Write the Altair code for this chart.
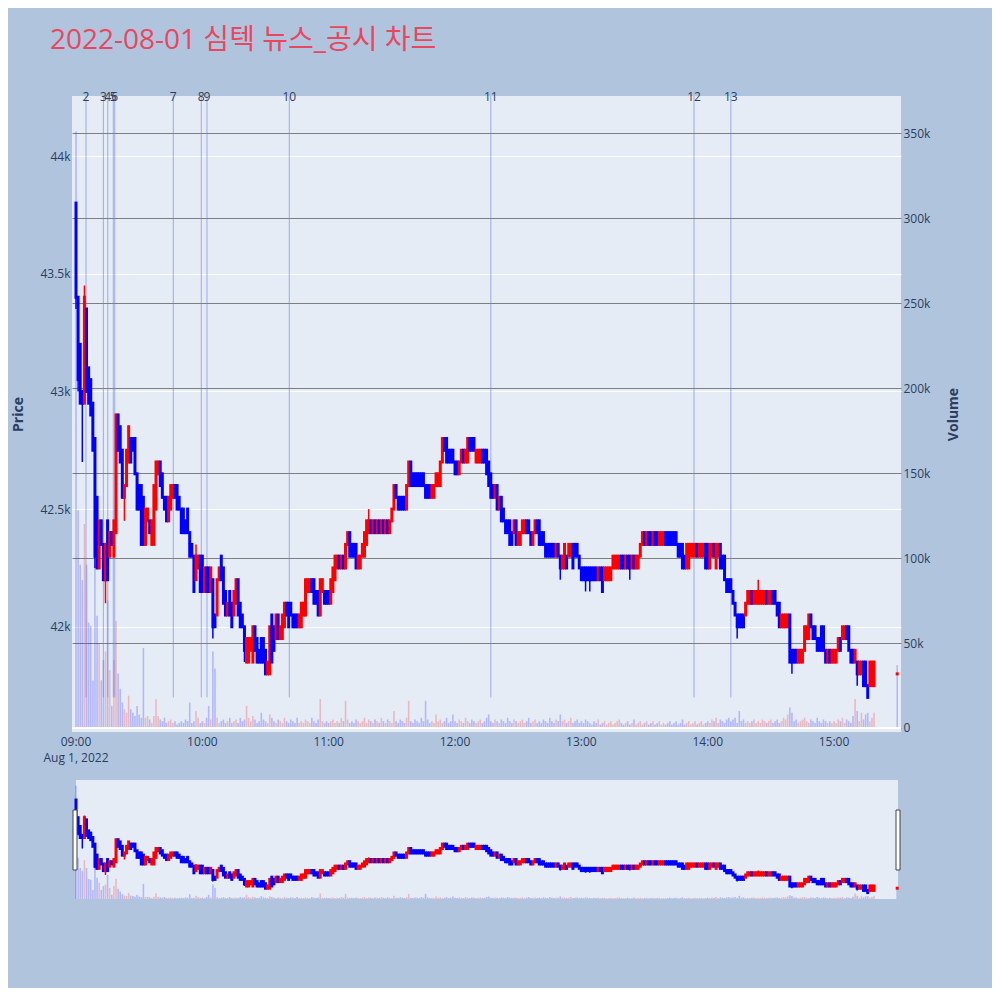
import altair as alt
import pandas as pd

TITLE = "2022-08-01 심텍 뉴스_공시 차트"

# one candle per minute after 09:00 (0..379) plus the 15:30 closing auction (390)
minutes = list(range(380)) + [390]

opens = [
    43800, 43400, 43200, 43000, 42950, 43350, 43100, 43050, 42950, 42800,
    42550, 42250, 42450, 42350, 42200, 42450, 42300, 42400, 42300, 42400,
    42900, 42850, 42750, 42550, 42600, 42700, 42800, 42800, 42800, 42650,
    42600, 42600, 42550, 42350, 42450, 42450, 42350, 42350, 42500, 42650,
    42700, 42650, 42550, 42550, 42450, 42500, 42550, 42600, 42600, 42550,
    42500, 42500, 42450, 42500, 42400, 42350, 42300, 42200, 42250, 42300,
    42300, 42150, 42250, 42250, 42150, 42200, 42050, 42050, 42200, 42300,
    42250, 42150, 42050, 42150, 42100, 42050, 42100, 42200, 42100, 42050,
    42000, 41850, 41850, 41900, 41850, 42000, 41950, 41900, 41950, 41950,
    41900, 41800, 41800, 42050, 42000, 41950, 42050, 41950, 41950, 42000,
    42100, 42100, 42100, 42050, 42050, 42050, 42000, 42000, 42050, 42050,
    42150, 42150, 42200, 42200, 42150, 42150, 42050, 42150, 42150, 42150,
    42150, 42100, 42150, 42200, 42250, 42300, 42250, 42300, 42250, 42350,
    42400, 42350, 42350, 42350, 42250, 42250, 42300, 42300, 42350, 42400,
    42450, 42400, 42450, 42400, 42450, 42400, 42450, 42400, 42450, 42400,
    42450, 42500, 42600, 42550, 42550, 42550, 42550, 42500, 42600, 42700,
    42650, 42650, 42650, 42650, 42650, 42650, 42600, 42600, 42600, 42550,
    42550, 42600, 42600, 42600, 42700, 42800, 42800, 42750, 42750, 42750,
    42700, 42700, 42650, 42700, 42750, 42700, 42700, 42800, 42800, 42800,
    42700, 42700, 42700, 42750, 42750, 42750, 42700, 42650, 42600, 42550,
    42600, 42500, 42550, 42500, 42450, 42450, 42450, 42400, 42400, 42450,
    42350, 42350, 42400, 42400, 42450, 42450, 42400, 42350, 42400, 42450,
    42450, 42400, 42400, 42350, 42350, 42350, 42350, 42350, 42300, 42350,
    42300, 42250, 42250, 42300, 42300, 42300, 42350, 42350, 42350, 42300,
    42250, 42250, 42250, 42250, 42250, 42250, 42250, 42250, 42200, 42250,
    42250, 42200, 42200, 42200, 42200, 42250, 42250, 42250, 42250, 42300,
    42300, 42250, 42300, 42300, 42250, 42300, 42250, 42250, 42300, 42350,
    42400, 42350, 42400, 42400, 42350, 42400, 42400, 42350, 42350, 42350,
    42400, 42400, 42400, 42400, 42400, 42400, 42350, 42350, 42350, 42300,
    42250, 42250, 42300, 42300, 42300, 42350, 42300, 42300, 42300, 42350,
    42350, 42250, 42300, 42350, 42250, 42300, 42350, 42300, 42300, 42200,
    42200, 42200, 42150, 42100, 42050, 42050, 42050, 42050, 42050, 42100,
    42100, 42150, 42100, 42100, 42100, 42100, 42100, 42100, 42150, 42100,
    42100, 42150, 42150, 42100, 42100, 42000, 42000, 42000, 42000, 42050,
    41900, 41900, 41900, 41850, 41850, 41850, 41900, 41950, 41950, 42050,
    42000, 42000, 41950, 41950, 42000, 42000, 41900, 41850, 41900, 41850,
    41850, 41850, 41900, 41950, 41950, 41950, 42000, 42000, 41900, 41900,
    41850, 41850, 41800, 41800, 41850, 41850, 41750, 41750, 41750, 41750,
    41800,
]

closes = [
    43400, 43050, 42950, 42950, 43400, 43000, 42950, 42900, 42750, 42300,
    42250, 42450, 42350, 42200, 42350, 42200, 42400, 42350, 42450, 42900,
    42750, 42700, 42550, 42600, 42750, 42850, 42700, 42750, 42650, 42500,
    42500, 42350, 42350, 42500, 42500, 42400, 42450, 42600, 42700, 42700,
    42600, 42550, 42500, 42450, 42550, 42600, 42600, 42550, 42500, 42500,
    42400, 42400, 42400, 42400, 42300, 42300, 42150, 42300, 42300, 42150,
    42150, 42250, 42150, 42150, 42250, 42000, 42000, 42200, 42250, 42200,
    42100, 42050, 42100, 42050, 42000, 42150, 42200, 42050, 42000, 42000,
    41900, 41950, 41950, 41950, 42000, 41900, 41850, 41850, 41850, 41850,
    41800, 41850, 42000, 41850, 41900, 42050, 41950, 42000, 42050, 42100,
    42050, 42000, 42050, 42000, 42000, 42000, 42050, 42100, 42100, 42200,
    42200, 42200, 42150, 42100, 42100, 42050, 42200, 42200, 42100, 42100,
    42100, 42200, 42250, 42300, 42300, 42250, 42300, 42250, 42350, 42400,
    42300, 42300, 42300, 42250, 42300, 42300, 42350, 42400, 42450, 42450,
    42400, 42450, 42400, 42450, 42400, 42450, 42400, 42450, 42400, 42450,
    42500, 42600, 42550, 42500, 42500, 42500, 42500, 42600, 42700, 42600,
    42600, 42600, 42600, 42600, 42600, 42600, 42550, 42550, 42550, 42600,
    42600, 42650, 42650, 42700, 42800, 42750, 42700, 42700, 42700, 42700,
    42650, 42650, 42700, 42750, 42700, 42750, 42800, 42750, 42750, 42750,
    42750, 42750, 42750, 42700, 42700, 42650, 42600, 42550, 42550, 42600,
    42500, 42550, 42450, 42450, 42400, 42400, 42350, 42350, 42450, 42350,
    42400, 42400, 42450, 42450, 42400, 42400, 42350, 42400, 42450, 42400,
    42350, 42350, 42350, 42300, 42300, 42300, 42300, 42300, 42350, 42300,
    42250, 42300, 42350, 42250, 42350, 42350, 42250, 42300, 42300, 42250,
    42200, 42200, 42200, 42200, 42200, 42200, 42200, 42200, 42250, 42200,
    42150, 42250, 42250, 42250, 42250, 42300, 42300, 42300, 42300, 42250,
    42250, 42300, 42250, 42250, 42300, 42250, 42300, 42300, 42350, 42400,
    42350, 42400, 42350, 42350, 42400, 42350, 42350, 42400, 42400, 42400,
    42350, 42350, 42350, 42350, 42350, 42350, 42300, 42300, 42250, 42250,
    42350, 42350, 42350, 42350, 42350, 42300, 42350, 42350, 42350, 42250,
    42250, 42350, 42350, 42300, 42350, 42350, 42250, 42250, 42200, 42150,
    42150, 42150, 42100, 42050, 42000, 42000, 42000, 42000, 42100, 42150,
    42150, 42100, 42150, 42150, 42150, 42150, 42150, 42150, 42100, 42150,
    42150, 42100, 42100, 42050, 42000, 42050, 42050, 42050, 42050, 41850,
    41850, 41850, 41850, 41900, 41900, 41900, 42000, 42000, 42050, 42000,
    41950, 41950, 41900, 41900, 41900, 41900, 41850, 41900, 41850, 41900,
    41900, 41900, 41950, 41900, 42000, 42000, 41950, 41900, 41850, 41850,
    41900, 41800, 41850, 41850, 41750, 41750, 41700, 41850, 41850, 41850,
    41800,
]

# traded volume per minute, in thousands of shares
volumes_k = [
    351, 128, 96, 87, 120, 96, 62, 60, 28, 96,
    66, 50, 28, 40, 45, 75, 34, 13, 40, 63,
    32, 23, 15, 11, 9, 19, 11, 9, 7, 13,
    8, 6, 47, 6, 7, 5, 3, 7, 17, 7,
    5, 4, 6, 3, 4, 5, 3, 4, 2, 3,
    4, 3, 5, 4, 15, 3, 4, 10, 6, 3,
    4, 3, 6, 13, 5, 45, 35, 6, 3, 4,
    5, 3, 4, 6, 3, 4, 5, 3, 6, 4,
    5, 13, 6, 4, 7, 5, 3, 4, 9, 5,
    4, 3, 8, 6, 4, 3, 5, 4, 3, 6,
    4, 3, 5, 4, 3, 6, 3, 4, 3, 5,
    4, 3, 6, 4, 3, 5, 17, 4, 3, 4,
    3, 4, 5, 3, 4, 3, 6, 4, 16, 5,
    3, 4, 3, 5, 4, 3, 4, 6, 3, 5,
    4, 3, 5, 4, 3, 6, 4, 3, 5, 4,
    3, 10, 4, 3, 5, 4, 3, 6, 16, 4,
    3, 5, 4, 3, 6, 4, 16, 5, 3, 4,
    3, 8, 4, 5, 3, 4, 6, 3, 4, 8,
    4, 3, 5, 4, 3, 6, 4, 3, 5, 4,
    3, 4, 5, 3, 4, 6, 8, 4, 3, 5,
    4, 3, 5, 4, 3, 6, 4, 3, 5, 4,
    3, 4, 5, 3, 4, 6, 3, 4, 5, 3,
    4, 3, 5, 4, 3, 6, 4, 3, 5, 4,
    8, 4, 5, 3, 4, 6, 3, 4, 5, 3,
    4, 3, 5, 4, 3, 2, 4, 3, 5, 2,
    3, 4, 2, 3, 4, 2, 3, 4, 5, 3,
    2, 3, 4, 2, 3, 5, 2, 3, 4, 2,
    3, 4, 2, 3, 4, 2, 3, 4, 2, 3,
    2, 3, 4, 2, 3, 4, 2, 3, 5, 2,
    3, 4, 2, 3, 4, 2, 3, 4, 2, 3,
    4, 3, 5, 4, 6, 3, 5, 4, 3, 5,
    6, 4, 5, 6, 3, 10, 4, 5, 3, 4,
    3, 4, 5, 3, 4, 3, 5, 4, 3, 4,
    5, 3, 4, 5, 3, 4, 6, 5, 8, 12,
    9, 4, 5, 3, 4, 5, 6, 4, 3, 5,
    4, 3, 6, 4, 3, 5, 4, 3, 4, 3,
    4, 3, 5, 4, 6, 3, 5, 4, 3, 7,
    17, 10, 4, 9, 5, 8, 9, 4, 6, 9,
    37,
]

# candles whose high/low reach beyond the body
wick_minute = [0, 1, 3, 4, 9, 14, 23, 57, 65, 80, 139, 230, 242, 244, 263, 314, 324, 340, 371]
wick_low = [43350, 43000, 42700, 42950, 42250, 42100, 42450, 42200, 41950, 41850,
            42400, 42200, 42150, 42150, 42200, 41950, 42100, 41800, 41750]
wick_high = [43800, 43400, 43000, 43450, 42800, 42350, 42600, 42350, 42200, 42000,
             42500, 42300, 42250, 42250, 42300, 42050, 42200, 41900, 41850]

# news / disclosure markers (minutes after 09:00)
news_no = ["2", "3", "4", "5", "6", "7", "8", "9", "10", "11", "12", "13"]
news_minute = [4.75, 13.0, 15.1, 17.7, 18.4, 46.2, 59.5, 62.2, 101.3, 197.0, 293.5, 311.0]
news_low = 41700
news_high = 44255

hour_ticks = [0, 60, 120, 180, 240, 300, 360]
hour_labels = ["09:00", "10:00", "11:00", "12:00", "13:00", "14:00", "15:00"]
price_ticks = [42000, 42500, 43000, 43500, 44000]
volume_ticks = [0, 50000, 100000, 150000, 200000, 250000, 300000, 350000]

# ---------------------------------------------------------------- frames
df = pd.DataFrame({"m": minutes, "o": opens, "c": closes,
                   "v": [x * 1000 for x in volumes_k]})
df["dir"] = ["up" if c >= o else "down" for o, c in zip(df.o, df.c)]
df["vdir"] = ["up" if c > o else "down" for o, c in zip(df.o, df.c)]
df["zero"] = 0
wk = pd.DataFrame({"m": wick_minute, "lo": wick_low, "hi": wick_high})
wk = wk.merge(df[["m", "dir"]], on="m")
news = pd.DataFrame({"m": news_minute, "label": news_no,
                     "lo": news_low, "hi": news_high})
hours = pd.DataFrame({"m": hour_ticks, "t": hour_labels})

W, H = 829, 803
MAIN_H = 636
SL_TOP, SL_BOT = 684, 803
FONT = "Open Sans"
AX_COL = "#2a3f5f"
PAGE = "#B0C4DE"

xs = alt.Scale(domain=[-1.9, 391.8], nice=False, zero=False, padding=0)
X = alt.X("m:Q", scale=xs, axis=None)

ps = alt.Scale(domain=[41553, 44255], range=[MAIN_H, 0], nice=False, zero=False)
price_axis = alt.Axis(orient="left", values=price_ticks, format="~s", grid=True,
                      gridColor="white", gridWidth=1, domain=False, ticks=False,
                      labelPadding=2, labelFont=FONT, labelFontSize=12, labelColor=AX_COL,
                      title="Price", titleX=-54, titleY=MAIN_H / 2, titleAngle=270,
                      titleBaseline="middle", titleAlign="center", titleFont=FONT,
                      titleFontSize=14, titleFontWeight="bold", titleColor=AX_COL)
vs = alt.Scale(domain=[-2353, 371765], range=[MAIN_H, 0], nice=False, zero=False)
vol_axis = alt.Axis(orient="right", values=volume_ticks,
                    labelExpr="datum.value == 0 ? '0' : format(datum.value, '~s')",
                    grid=True, gridColor="#7f7f7f", gridWidth=1, domain=False, ticks=False,
                    labelPadding=2, labelFont=FONT, labelFontSize=12, labelColor=AX_COL,
                    title="Volume", titleX=52, titleY=MAIN_H / 2, titleAngle=270,
                    titleBaseline="middle", titleAlign="center", titleFont=FONT,
                    titleFontSize=14, titleFontWeight="bold", titleColor=AX_COL)
sps = alt.Scale(domain=[41555, 44255], range=[SL_BOT, SL_TOP], nice=False, zero=False)
svs = alt.Scale(domain=[0, 368600], range=[SL_BOT, SL_TOP], nice=False, zero=False)

cscale = alt.Scale(domain=["up", "down"], range=["#FF0000", "#0000FF"])
ccolor = alt.Color("dir:N", scale=cscale, legend=None)
vcolor = alt.Color("vdir:N", scale=cscale, legend=None)

one = pd.DataFrame({"a": [0]})


def block(x0, x1, y0, y1, **kw):
    return alt.Chart(one).mark_rect(**kw).encode(
        x=alt.value(x0), x2=alt.value(x1), y=alt.value(y0), y2=alt.value(y1))


gap_mid = block(0, W, MAIN_H, SL_TOP, color=PAGE)
gap_left = block(0, 4, SL_TOP, SL_BOT, color=PAGE)
gap_right = block(826, W, SL_TOP, SL_BOT, color=PAGE)

# ---------------------------------------------------------------- main panel
vol_bars = alt.Chart(df).mark_bar(width=1.6, opacity=0.22).encode(
    x=X, y=alt.Y("v:Q", scale=vs, axis=vol_axis), y2="zero:Q", color=vcolor)
zero_line = alt.Chart(pd.DataFrame({"v": [0]})).mark_rule(color="white", strokeWidth=2).encode(
    x=alt.value(0), x2=alt.value(W), y=alt.Y("v:Q", scale=vs, axis=vol_axis))
main_vol = alt.layer(vol_bars, zero_line)

news_rules = alt.Chart(news).mark_rule(color="#6A80E0", opacity=0.6, strokeWidth=1).encode(
    x=X, y=alt.Y("lo:Q", scale=ps, axis=price_axis), y2="hi:Q")
wicks = alt.Chart(wk).mark_rule(strokeWidth=1.5).encode(
    x=X, y=alt.Y("lo:Q", scale=ps, axis=price_axis), y2="hi:Q", color=ccolor)
bodies = alt.Chart(df).mark_rule(strokeWidth=3, strokeCap="square").encode(
    x=X, y=alt.Y("o:Q", scale=ps, axis=price_axis), y2="c:Q", color=ccolor)
news_text = alt.Chart(news).mark_text(font=FONT, fontSize=12, color=AX_COL,
                                      baseline="middle").encode(
    x=X, y=alt.value(1), text="label:N")
main_price = alt.layer(news_rules, wicks, bodies, news_text)

# ---------------------------------------------------------------- range slider
s_vol = alt.Chart(df).mark_bar(width=1.6, opacity=0.22).encode(
    x=X, y=alt.Y("v:Q", scale=svs, axis=None), y2="zero:Q", color=vcolor)
s_wicks = alt.Chart(wk).mark_rule(strokeWidth=1.5).encode(
    x=X, y=alt.Y("lo:Q", scale=sps, axis=None), y2="hi:Q", color=ccolor)
s_bodies = alt.Chart(df).mark_rule(strokeWidth=3, strokeCap="square").encode(
    x=X, y=alt.Y("o:Q", scale=sps, axis=None), y2="c:Q", color=ccolor)
slider_vol = alt.layer(s_vol)
slider_price = alt.layer(s_wicks, s_bodies)

handle_l = block(1, 5, 714, 774, fill="white", stroke="#444444", strokeWidth=1)
handle_r = block(824, 828, 714, 774, fill="white", stroke="#444444", strokeWidth=1)

# ---------------------------------------------------------------- texts
title_t = alt.Chart(pd.DataFrame({"t": [TITLE]})).mark_text(
    align="left", baseline="middle", fontSize=28, font="Open Sans, Noto Sans CJK KR",
    color="#E8475F").encode(x=alt.value(-22), y=alt.value(-55), text="t:N")
hour_t = alt.Chart(hours).mark_text(
    baseline="middle", fontSize=12, font=FONT, color=AX_COL).encode(
    x=X, y=alt.value(646), text="t:N")
date_t = alt.Chart(pd.DataFrame({"m": [0], "t": ["Aug 1, 2022"]})).mark_text(
    baseline="middle", fontSize=12, font=FONT, color=AX_COL).encode(
    x=X, y=alt.value(662), text="t:N")

chart = alt.layer(
    gap_mid, gap_left, gap_right,
    main_vol, main_price,
    slider_vol, slider_price,
    handle_l, handle_r,
    title_t, hour_t, date_t,
).resolve_scale(y="independent").properties(
    width=W, height=H,
    padding={"left": 64, "top": 88, "right": 91, "bottom": 89},
    autosize=alt.AutoSizeParams(type="none"),
    background=PAGE,
).configure_view(fill="#E5ECF6", stroke=None)

chart.save("out.html", embed_options={"renderer": "svg", "actions": False})
